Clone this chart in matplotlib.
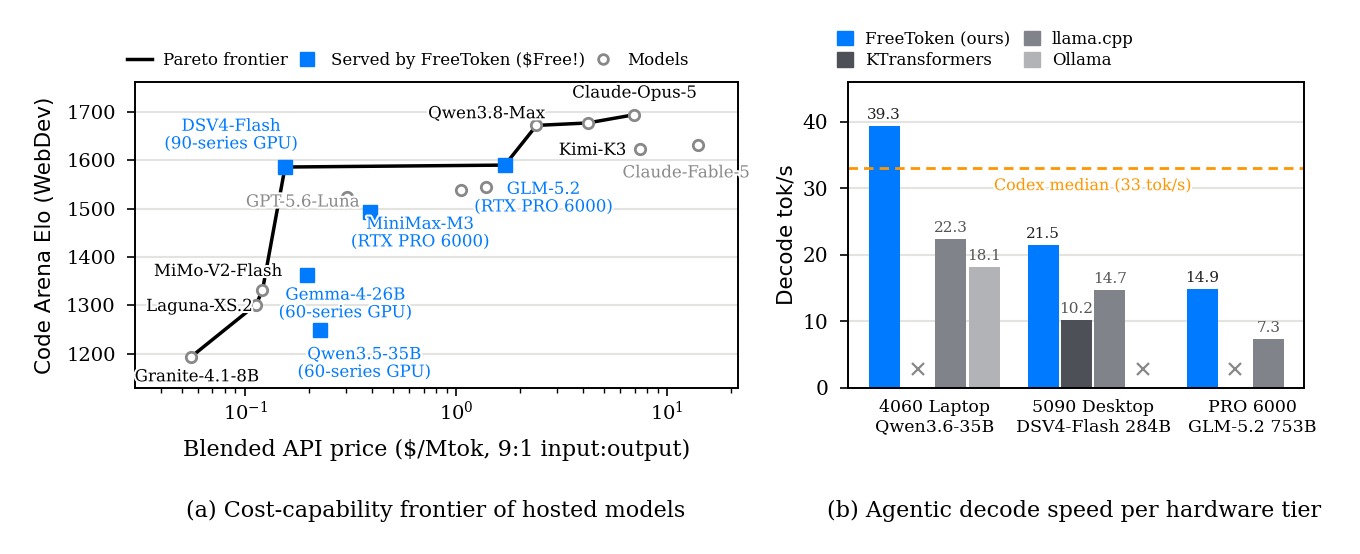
import numpy as np
import matplotlib
matplotlib.use('Agg')
import matplotlib.pyplot as plt
import matplotlib.patheffects as pe
from matplotlib.lines import Line2D
from matplotlib.patches import Patch

plt.rcParams['font.family'] = 'DejaVu Serif'
plt.rcParams['mathtext.fontset'] = 'dejavuserif'

# ---- (a) cost-capability frontier ----
model_names = ['Granite-4.1-8B', 'Laguna-XS.2', 'MiMo-V2-Flash', 'GPT-5.6-Luna', '', '',
               'Qwen3.8-Max', '', 'Claude-Opus-5', 'Kimi-K3', 'Claude-Fable-5']
model_price = [0.0555, 0.1127, 0.1208, 0.303, 1.05, 1.39, 2.40, 4.19, 6.96, 7.40, 13.9]
model_elo = [1194, 1302, 1331, 1524, 1538, 1544, 1672, 1677, 1694, 1624, 1631]

served_names = ['DSV4-Flash\n(90-series GPU)', 'MiniMax-M3\n(RTX PRO 6000)',
                'GLM-5.2\n(RTX PRO 6000)', 'Gemma-4-26B\n(60-series GPU)',
                'Qwen3.5-35B\n(60-series GPU)']
served_price = [0.1546, 0.3905, 1.70, 0.196, 0.2264]
served_elo = [1586, 1494, 1590, 1364, 1250]

# ---- (b) decode speed ----
tiers = ['4060 Laptop\nQwen3.6-35B', '5090 Desktop\nDSV4-Flash 284B', 'PRO 6000\nGLM-5.2 753B']
engines = ['FreeToken (ours)', 'KTransformers', 'llama.cpp', 'Ollama']
freetoken = [39.3, 21.5, 14.9]
ktransformers = [None, 10.2, None]
llamacpp = [22.3, 14.7, 7.3]
ollama = [18.1, None, None]
unsupported = [(0, 1), (1, 3), (2, 1)]  # (tier, engine) shown as x
codex_median = 33

BLUE = '#007AFF'
GRAYS = ['#007AFF', '#4D5057', '#80838A', '#B1B3B7']
ORANGE = '#FF9500'
GRID = '#E3E3DF'
MGRAY = '#888888'

fig = plt.figure(figsize=(13.6, 5.54), dpi=100)
ax1 = fig.add_axes([0.0993, 0.300, 0.4436, 0.5523])
ax2 = fig.add_axes([0.6238, 0.300, 0.3351, 0.5523])

stroke = [pe.withStroke(linewidth=3, foreground='white')]

# pareto frontier
all_p = np.array(model_price + served_price)
all_e = np.array(model_elo + served_elo)
order = np.argsort(all_p)
fp, fe, best = [], [], -np.inf
for i in order:
    if all_e[i] > best:
        best = all_e[i]
        fp.append(all_p[i])
        fe.append(all_e[i])

ax1.set_xscale('log')
ax1.plot(fp, fe, color='black', lw=2.5, zorder=3)
ax1.plot(model_price, model_elo, 'o', ms=7.5, mfc='white', mec=MGRAY, mew=2, zorder=4, ls='none')
ax1.plot(served_price, served_elo, 's', ms=9.5, color=BLUE, zorder=5, ls='none')

# label offsets (points) and colours
model_lab = {
    'Granite-4.1-8B': ((4, -14.4), 'black'),
    'Laguna-XS.2': ((-41, -1.4), 'black'),
    'MiMo-V2-Flash': ((-32, 13.7), 'black'),
    'GPT-5.6-Luna': ((-32, -3.6), '#8A8A8A'),
    'Qwen3.8-Max': ((-36, 8.4), 'black'),
    'Claude-Opus-5': ((0, 15.6), 'black'),
    'Kimi-K3': ((-34, -1.2), 'black'),
    'Claude-Fable-5': ((-8.4, -19.9), '#8A8A8A'),
}
for name, x, y in zip(model_names, model_price, model_elo):
    if not name:
        continue
    off, col = model_lab[name]
    ax1.annotate(name, (x, y), xytext=off, textcoords='offset points', ha='center', va='center',
                 fontsize=12, color=col, path_effects=stroke, zorder=6, annotation_clip=False)

served_off = [(-39, 23), (36, -15.5), (27.7, -23.8), (27.6, -21.2), (31.7, -24.3)]
for name, x, y, off in zip(served_names, served_price, served_elo, served_off):
    ax1.annotate(name, (x, y), xytext=off, textcoords='offset points', ha='center', va='center',
                 fontsize=12, color=BLUE, path_effects=stroke, zorder=6, linespacing=1.05,
                 multialignment='center')

ax1.set_xlim(0.0301, 21.7)
ax1.set_ylim(1130, 1762)
ax1.set_yticks([1200, 1300, 1400, 1500, 1600, 1700])
ax1.grid(axis='y', color=GRID, lw=1.5, zorder=0)
ax1.set_axisbelow(True)
ax1.tick_params(axis='both', which='major', labelsize=14, length=5.5, width=1.2)
ax1.tick_params(axis='y', pad=8.4)
ax1.tick_params(axis='x', which='minor', length=3.5, width=1.0)
ax1.set_xlabel('Blended API price ($/Mtok, 9:1 input:output)', fontsize=16, labelpad=11)
ax1.set_ylabel('Code Arena Elo (WebDev)', fontsize=15.5, family='DejaVu Sans', labelpad=8)
for s in ax1.spines.values():
    s.set_linewidth(1.4)

h1 = [Line2D([], [], color='black', lw=2.5),
      Line2D([], [], marker='s', ms=9.5, color=BLUE, ls='none'),
      Line2D([], [], marker='o', ms=7, mfc='white', mec=MGRAY, mew=2, ls='none')]
ax1.legend(h1, ['Pareto frontier', 'Served by FreeToken ($Free!)', 'Models'], loc='lower left',
           bbox_to_anchor=(-0.025, 1.02), ncol=3, frameon=False, fontsize=12,
           handlelength=1.5, handletextpad=0.7, columnspacing=0.35, borderaxespad=0)

# ---- bars ----
x = np.arange(len(tiers))
width = 0.195
step = 0.21
series = [freetoken, ktransformers, llamacpp, ollama]
for j, vals in enumerate(series):
    xs = x + (j - 1.5) * step
    for xi, v in zip(xs, vals):
        if v is None:
            continue
        ax2.bar(xi, v, width, color=GRAYS[j], zorder=2)
        ax2.text(xi, v + 0.6, f'{v:.1f}', ha='center', va='bottom', fontsize=11,
                 color='#222222' if j == 0 else '#555555', zorder=3)
for t, j in unsupported:
    ax2.plot(x[t] + (j - 1.5) * step, 2.8, marker='x', ms=9, mew=1.6, color=MGRAY, zorder=3)

ax2.axhline(codex_median, color=ORANGE, ls=(0, (3.4, 2.2)), lw=2, zorder=2)
ax2.text(1.0, codex_median - 2.6, f'Codex median ({codex_median} tok/s)', ha='center', va='center',
         fontsize=11.5, color=ORANGE, path_effects=stroke, zorder=3)

ax2.set_xlim(-0.54, 2.327)
ax2.set_ylim(0, 46)
ax2.set_yticks([0, 10, 20, 30, 40])
ax2.set_xticks(x)
ax2.set_xticklabels(tiers, fontsize=12.5, linespacing=1.2)
ax2.tick_params(axis='x', length=0, pad=8)
ax2.tick_params(axis='y', labelsize=14.5, length=6, width=1.2, pad=8.4)
ax2.grid(axis='y', color=GRID, lw=1.5, zorder=0)
ax2.set_axisbelow(True)
ax2.set_ylabel('Decode tok/s', fontsize=15.5, family='DejaVu Sans', labelpad=4.4)
for s in ax2.spines.values():
    s.set_linewidth(1.4)

h2 = [Patch(color=c) for c in GRAYS]
ax2.legend(h2, engines, loc='lower left', bbox_to_anchor=(-0.04, 1.02), ncol=2, frameon=False,
           fontsize=12, handlelength=1.0, handleheight=1.0, handletextpad=0.7,
           columnspacing=0.8, labelspacing=0.25, borderaxespad=0)

fig.text(0.3206, 0.0776, '(a) Cost-capability frontier of hosted models', ha='center', va='center',
         fontsize=16)
fig.text(0.790, 0.0776, '(b) Agentic decode speed per hardware tier', ha='center', va='center',
         fontsize=16)

fig.savefig('out.png', dpi=100)
